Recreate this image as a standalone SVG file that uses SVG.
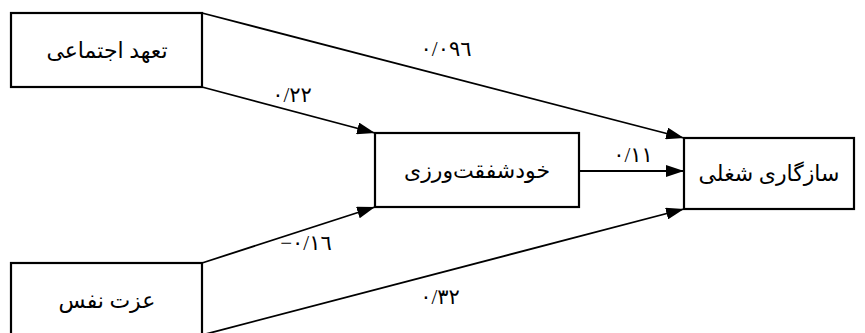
<svg xmlns="http://www.w3.org/2000/svg" width="865" height="333" viewBox="0 0 865 333">
<style>
.box{fill:#fff;stroke:#000;stroke-width:2.2}
.lbl{font-family:"Liberation Serif","DejaVu Sans",serif;font-size:22px;fill:#000;text-anchor:middle;dominant-baseline:central}
.num{font-family:"Liberation Serif","DejaVu Sans",serif;font-size:21px;fill:#000;text-anchor:middle}
.edge{stroke:#000;stroke-width:1.8;fill:none}
</style>
<defs>
<marker id="arr" viewBox="0 0 18 12" refX="18" refY="6" markerWidth="18" markerHeight="12" markerUnits="userSpaceOnUse" orient="auto">
<path d="M0,0 L18,6 L0,12 Z" fill="#000"/>
</marker>
</defs>
<rect width="865" height="333" fill="#fff"/>
<g id="connectors">
<line class="edge" x1="202" y1="13" x2="684" y2="138" marker-end="url(#arr)"/>
<line class="edge" x1="202" y1="87" x2="375" y2="133" marker-end="url(#arr)"/>
<line class="edge" x1="579" y1="171" x2="684" y2="171" marker-end="url(#arr)"/>
<line class="edge" x1="202" y1="263" x2="375" y2="207" marker-end="url(#arr)"/>
<line class="edge" x1="202" y1="335" x2="684" y2="209" marker-end="url(#arr)"/>
<text class="num" x="446" y="56">٠/٠٩٦</text>
<text class="num" x="292" y="102">٠/٢٢</text>
<text class="num" x="633" y="162">٠/١١</text>
<text class="num" x="306" y="250">−٠/١٦</text>
<text class="num" x="440" y="304">٠/٣٢</text>
</g>
<g id="node-commitment">
<rect class="box" x="11" y="13" width="191" height="74"/>
<text class="lbl" x="107" y="50">تعهد اجتماعی</text>
</g>
<g id="node-selfcompassion">
<rect class="box" x="375" y="133" width="204" height="74"/>
<text class="lbl" x="477" y="170">خودشفقت‌ورزی</text>
</g>
<g id="node-adjustment">
<rect class="box" x="684" y="138" width="170" height="71"/>
<text class="lbl" x="769" y="173">سازگاری شغلی</text>
</g>
<g id="node-selfesteem">
<rect class="box" x="11" y="263" width="191" height="72"/>
<text class="lbl" x="107" y="300">عزت نفس</text>
</g>
</svg>
